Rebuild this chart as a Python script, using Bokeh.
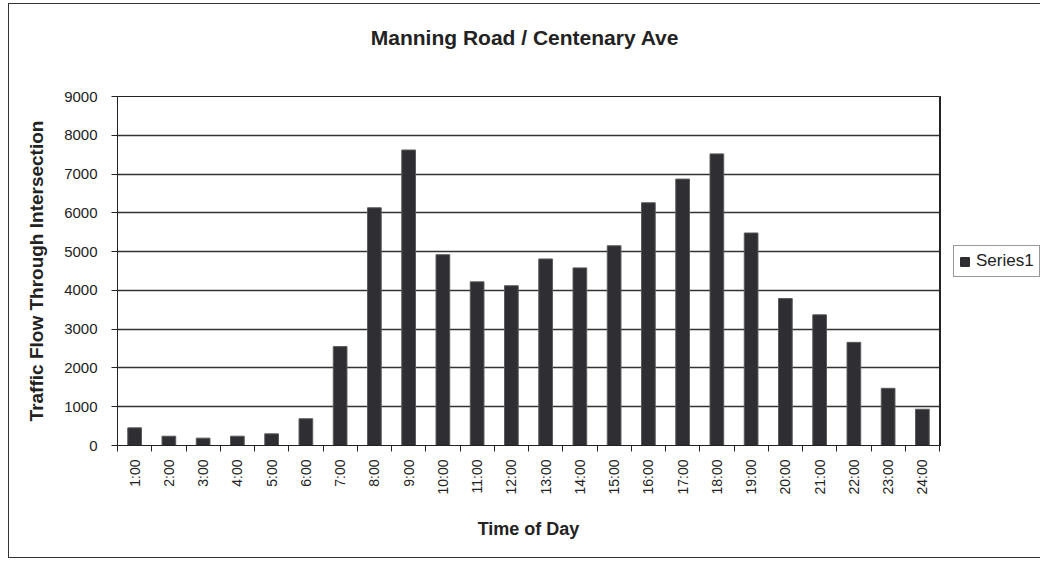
import math
from bokeh.plotting import figure
from bokeh.layouts import row, column
from bokeh.models import (FixedTicker, Range1d, Legend, LegendItem, Title,
                          ColumnDataSource)
from bokeh.embed import file_html
from bokeh.resources import INLINE

hours = ["1:00", "2:00", "3:00", "4:00", "5:00", "6:00", "7:00", "8:00",
         "9:00", "10:00", "11:00", "12:00", "13:00", "14:00", "15:00", "16:00",
         "17:00", "18:00", "19:00", "20:00", "21:00", "22:00", "23:00", "24:00"]
traffic = [455, 240, 190, 240, 300, 690, 2550, 6130, 7620, 4920, 4220, 4120,
           4810, 4580, 5150, 6260, 6870, 7520, 5480, 3790, 3370, 2660, 1475, 935]
y_ticks = [0, 1000, 2000, 3000, 4000, 5000, 6000, 7000, 8000, 9000]
series_name = "Series1"
chart_title = "Manning Road / Centenary Ave"

FONT = "Liberation Sans"
BAR_FILL = "#2e2e33"
BAR_LINE = "#5a5a5a"
positions = list(range(1, len(hours) + 1))
src = ColumnDataSource(dict(x=positions, top=traffic, label=hours))


def blank(fig):
    fig.axis.visible = False
    fig.grid.visible = False
    fig.outline_line_color = None
    fig.background_fill_color = "white"
    fig.border_fill_color = "white"


# Title strip
tf = figure(width=1031, height=70, output_backend="svg", toolbar_location=None,
            x_range=Range1d(0, 1), y_range=Range1d(0, 1), min_border=0)
blank(tf)
tf.title = Title(text=chart_title, align="center", text_font=FONT,
                 text_font_size="21px", text_font_style="bold",
                 text_color="#222222", standoff=39)

# Main chart
p = figure(width=931, height=483, output_backend="svg", toolbar_location=None,
           x_range=Range1d(0.5, len(hours) + 0.5), y_range=Range1d(0, 9000),
           frame_width=822, frame_height=349,
           min_border_left=108, min_border_right=1, min_border_top=22,
           min_border_bottom=112)
p.title = None

r = p.vbar(x="x", top="top", width=0.4, source=src,
           fill_color=BAR_FILL, line_color=BAR_LINE, line_width=1)

p.xaxis.ticker = FixedTicker(ticks=positions,
                             minor_ticks=[i + 0.5 for i in range(0, len(hours) + 1)])
p.xaxis.major_label_overrides = {i: h for i, h in zip(positions, hours)}
p.xaxis.major_label_orientation = math.pi / 2
p.xaxis.major_tick_out = 0
p.xaxis.major_tick_in = 0
p.xaxis.minor_tick_out = 6
p.xaxis.minor_tick_in = 0
p.xaxis.minor_tick_line_color = "#222222"
p.xaxis.major_label_text_font = FONT
p.xaxis.major_label_text_font_size = "14px"
p.xaxis.major_label_text_color = "#222222"
p.xaxis.major_label_standoff = 8
p.xaxis.axis_label = "Time of Day"
p.xaxis.axis_label_text_font = FONT
p.xaxis.axis_label_text_font_size = "18px"
p.xaxis.axis_label_text_font_style = "bold"
p.xaxis.axis_label_text_color = "#222222"
p.xaxis.axis_label_standoff = 21
p.xaxis.axis_line_color = "#222222"

p.yaxis.ticker = FixedTicker(ticks=y_ticks)
p.yaxis.major_tick_out = 6
p.yaxis.major_tick_in = 0
p.yaxis.minor_tick_out = 0
p.yaxis.minor_tick_in = 0
p.yaxis.major_tick_line_color = "#222222"
p.yaxis.major_label_text_font = FONT
p.yaxis.major_label_text_font_size = "15px"
p.yaxis.major_label_text_color = "#222222"
p.yaxis.major_label_standoff = 14
p.yaxis.axis_label = "Traffic Flow Through Intersection"
p.yaxis.axis_label_text_font = FONT
p.yaxis.axis_label_text_font_size = "19px"
p.yaxis.axis_label_text_font_style = "bold"
p.yaxis.axis_label_text_color = "#222222"
p.yaxis.axis_label_standoff = 14
p.yaxis.axis_line_color = "#222222"

p.xgrid.grid_line_color = None
p.ygrid.ticker = FixedTicker(ticks=y_ticks)
p.ygrid.grid_line_color = "#333333"
p.ygrid.grid_line_width = 1.5

p.outline_line_color = "#222222"
p.outline_line_width = 1
p.background_fill_color = "white"
p.border_fill_color = "white"

# Legend strip to the right of the plot area
lg = figure(width=100, height=483, output_backend="svg", toolbar_location=None,
            x_range=Range1d(100, 101), y_range=Range1d(0, 1), min_border=0)
blank(lg)
key = lg.vbar(x="x", top="top", width=0.4, source=src, fill_color=BAR_FILL,
              line_color="#222222", line_width=1)
legend = Legend(items=[LegendItem(label=series_name, renderers=[key])],
                location=(13, 168), label_text_font=FONT,
                label_text_font_size="17px", label_text_color="#222222",
                glyph_width=11, glyph_height=11, padding=5, spacing=0,
                margin=0, border_line_color="#333333", border_line_width=1,
                label_standoff=6, background_fill_color="white")
lg.add_layout(legend)

layout = column(tf, row(p, lg, spacing=0), spacing=0)
layout.styles = {"margin-left": "8px", "margin-top": "3px",
                 "border-left": "1px solid #333", "border-top": "1px solid #333",
                 "border-bottom": "1px solid #333"}

open("out.html", "w").write(file_html(layout, INLINE))
